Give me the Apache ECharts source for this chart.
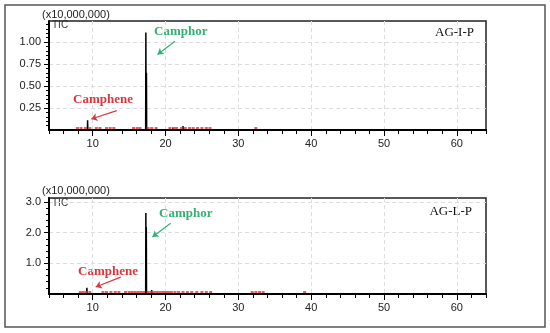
<!DOCTYPE html>
<html>
<head>
<meta charset="utf-8">
<script src="https://cdn.jsdelivr.net/npm/echarts@6/dist/echarts.min.js"></script>
<style>
  html, body { margin: 0; padding: 0; background: #fff; }
  #chart { width: 550px; height: 333px; }
</style>
</head>
<body>
<div id="chart"></div>
<script>
// retention time (min) and intensity (x10,000,000) of visible peaks
var topPeakTimes = [9.3, 12.8, 17.3, 17.38, 18.2, 21.0, 21.7, 22.4, 23.0, 26.2];
var topPeakHeights = [0.11, 0.02, 1.11, 0.65, 0.015, 0.025, 0.02, 0.045, 0.01, 0.02];
var bottomPeakTimes = [9.2, 12.8, 17.3, 17.36, 18.1, 21.0, 22.4];
var bottomPeakHeights = [0.2, 0.03, 2.64, 2.18, 0.13, 0.03, 0.04];

// red integration marks on the baseline
var topMarks = [7.9, 8.4, 9.0, 9.6, 10.5, 11.0, 11.9, 12.4, 12.9, 15.6, 16.1, 16.5, 17.6, 18.1, 18.7,
  20.6, 21.1, 21.5, 22.2, 22.7, 23.3, 23.8, 24.4, 25.0, 25.6, 26.1, 32.4];
var bottomMarks = [8.3, 8.7, 9.1, 9.6, 11.4, 11.9, 12.5, 13.1, 13.6, 14.5, 15.0, 15.4, 15.8, 16.2, 16.6,
  17.0, 17.6, 18.0, 18.4, 18.8, 19.2, 19.6, 20.0, 20.4, 20.8, 21.3, 21.8, 22.4, 23.0, 23.6, 24.3, 25.0,
  25.6, 26.2, 31.9, 32.4, 32.9, 33.4, 39.1];

var xMin = 4, xMax = 64;
var xLabels = [10, 20, 30, 40, 50, 60];
var xMinorTicks = [4, 6, 8, 10, 12, 14, 16, 18, 20, 22, 24, 26, 28, 30, 32, 34, 36, 38, 40,
  42, 44, 46, 48, 50, 52, 54, 56, 58, 60, 62, 64];
var topYLabels = [0.25, 0.5, 0.75, 1.0];
var bottomYLabels = [1.0, 2.0, 3.0];

var red = '#d8383c';
var green = '#35b074';
var labelFont = '"Liberation Sans", Arial, sans-serif';
var serif = '"Liberation Serif", "Times New Roman", serif';

function trace(times, heights) {
  var pts = [[xMin, 0]];
  for (var i = 0; i < times.length; i++) {
    pts.push([times[i] - 0.03, 0], [times[i], heights[i]], [times[i] + 0.03, 0]);
  }
  pts.push([xMax, 0]);
  return pts;
}

function marks(times) {
  return times.map(function(t) { return [t, 0]; });
}

function xAxes(grid) {
  return [
    {
      gridIndex: grid, type: 'value', min: xMin, max: xMax, interval: 2,
      axisLine: { show: true, lineStyle: { color: '#000', width: 2 } },
      axisTick: { show: true, inside: false, customValues: xMinorTicks, length: 4, lineStyle: { color: '#000', width: 1 } },
      axisLabel: { customValues: xLabels, color: '#222', fontFamily: labelFont, fontSize: 11, margin: 8 },
      splitLine: { show: false }
    },
    {
      gridIndex: grid, type: 'value', min: xMin, max: xMax, position: 'bottom',
      axisLine: { show: true, lineStyle: { color: '#000', width: 2 } },
      axisTick: { show: true, inside: false, customValues: xLabels, length: 6, lineStyle: { color: '#000', width: 1 } },
      axisLabel: { show: false },
      splitLine: { show: true, lineStyle: { color: '#ddd', type: [4, 3] } }
    }
  ];
}

function yAxis(grid, max, interval, labels, digits) {
  return {
    gridIndex: grid, type: 'value', min: 0, max: max, interval: interval,
    axisLine: { show: true, lineStyle: { color: '#000', width: 2 } },
    axisTick: { show: true, inside: false, customValues: labels, length: 5, lineStyle: { color: '#000' } },
    minorTick: { show: true, splitNumber: 5, length: 3, lineStyle: { color: '#000' } },
    axisLabel: {
      customValues: labels, color: '#222', fontFamily: labelFont, fontSize: 11, margin: 8,
      formatter: function(val) { return val.toFixed(digits); }
    },
    splitLine: { show: true, lineStyle: { color: '#ddd', type: [4, 3] } }
  };
}

function arrow(color, from, to) {
  return {
    silent: true, symbol: ['none', 'arrow'], symbolSize: 6,
    lineStyle: { color: color, width: 1.2, type: 'solid' },
    label: { show: false },
    data: [[{ coord: from }, { coord: to }]]
  };
}

var chart = echarts.init(document.getElementById('chart'), null, { renderer: 'canvas' });
chart.setOption({
  animation: false,
  backgroundColor: '#fff',
  grid: [
    { left: 49, top: 21, right: 64, height: 109, show: true, borderColor: '#222', borderWidth: 1.5, backgroundColor: 'transparent' },
    { left: 49, top: 198, right: 64, height: 96, show: true, borderColor: '#222', borderWidth: 1.5, backgroundColor: 'transparent' }
  ],
  xAxis: xAxes(0).concat(xAxes(1)),
  yAxis: [
    yAxis(0, 1.24, 0.25, topYLabels, 2),
    yAxis(1, 3.13, 1, bottomYLabels, 1)
  ],
  series: [
    {
      name: 'AG-I-P', type: 'line', xAxisIndex: 0, yAxisIndex: 0,
      data: trace(topPeakTimes, topPeakHeights), showSymbol: false,
      lineStyle: { color: '#000', width: 1.5 }, z: 3,
      markLine: arrow(green, [21.3, 1.01], [18.9, 0.86])
    },
    {
      type: 'line', xAxisIndex: 0, yAxisIndex: 0, data: [], showSymbol: false,
      markLine: arrow(red, [13.3, 0.22], [9.8, 0.125])
    },
    {
      type: 'scatter', xAxisIndex: 0, yAxisIndex: 0, data: marks(topMarks),
      symbol: 'rect', symbolSize: [3, 2], symbolOffset: [0, -2],
      itemStyle: { color: red }, z: 4
    },
    {
      name: 'AG-L-P', type: 'line', xAxisIndex: 2, yAxisIndex: 1,
      data: trace(bottomPeakTimes, bottomPeakHeights), showSymbol: false,
      lineStyle: { color: '#000', width: 1.5 }, z: 3,
      markLine: arrow(green, [20.7, 2.31], [18.2, 1.86])
    },
    {
      type: 'line', xAxisIndex: 2, yAxisIndex: 1, data: [], showSymbol: false,
      markLine: arrow(red, [13.85, 0.55], [10.4, 0.23])
    },
    {
      type: 'scatter', xAxisIndex: 2, yAxisIndex: 1, data: marks(bottomMarks),
      symbol: 'rect', symbolSize: [3, 2], symbolOffset: [0, -2],
      itemStyle: { color: red }, z: 4
    }
  ],
  graphic: [
    { type: 'rect', shape: { x: 5, y: 5, width: 540, height: 322 }, style: { fill: 'none', stroke: '#555', lineWidth: 1.5 }, z: 10 },
    { type: 'text', x: 42, y: 9, style: { text: '(x10,000,000)', font: '11px ' + labelFont, fill: '#222' } },
    { type: 'text', x: 52, y: 20, style: { text: 'TIC', font: '10px ' + labelFont, fill: '#333' } },
    { type: 'text', x: 474, y: 26, style: { text: 'AG-I-P', font: '13px ' + serif, fill: '#111', align: 'right' } },
    { type: 'text', x: 154, y: 25, style: { text: 'Camphor', font: 'bold 13px ' + serif, fill: green } },
    { type: 'text', x: 73, y: 93, style: { text: 'Camphene', font: 'bold 13px ' + serif, fill: red } },
    { type: 'text', x: 42, y: 185, style: { text: '(x10,000,000)', font: '11px ' + labelFont, fill: '#222' } },
    { type: 'text', x: 52, y: 198, style: { text: 'TIC', font: '10px ' + labelFont, fill: '#333' } },
    { type: 'text', x: 472, y: 205, style: { text: 'AG-L-P', font: '13px ' + serif, fill: '#111', align: 'right' } },
    { type: 'text', x: 159, y: 207, style: { text: 'Camphor', font: 'bold 13px ' + serif, fill: green } },
    { type: 'text', x: 78, y: 265, style: { text: 'Camphene', font: 'bold 13px ' + serif, fill: red } }
  ]
});

window.addEventListener('resize', function() {
  chart.resize();
});
</script>
</body>
</html>
